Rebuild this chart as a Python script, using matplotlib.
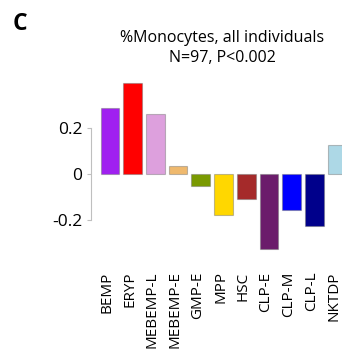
import matplotlib
matplotlib.use("Agg")
import matplotlib.pyplot as plt
from matplotlib.transforms import ScaledTranslation

plt.rcParams['font.family'] = ['Open Sans', 'DejaVu Sans']

# Correlation of each progenitor population with %Monocytes
populations = ["BEMP", "ERYP", "MEBEMP-L", "MEBEMP-E", "GMP-E", "MPP", "HSC",
               "CLP-E", "CLP-M", "CLP-L", "NKTDP"]
correlations = [0.287, 0.395, 0.262, 0.035, -0.050, -0.177, -0.107,
                -0.326, -0.155, -0.223, 0.127]
bar_colors = ["#A020F0", "#FF0000", "#DDA0DD", "#EFB96E", "#7A9A01", "#FFD700",
              "#A52A2A", "#6B1C6B", "#0000FF", "#00008B", "#ADD8E6"]
ytick_values = [-0.2, 0, 0.2]
ytick_labels = ["-0.2", "0", "0.2"]

W, H = 342, 359
fig = plt.figure(figsize=(W / 100, H / 100), dpi=100)

# axes placed in pixel units
left_px, right_px = 90.5, 350.6
top_px, bottom_px = 82.3, 254.8
ax = fig.add_axes([left_px / W, 1 - bottom_px / H,
                   (right_px - left_px) / W, (bottom_px - top_px) / H])

x = range(len(populations))
ax.bar(x, correlations, width=0.82, color=bar_colors,
       edgecolor=(0.45, 0.45, 0.45, 0.45), linewidth=0.8)

ax.set_xlim(-0.86, 10.6)
ax.set_ylim(-0.35, 0.40)

for side in ("top", "right", "bottom"):
    ax.spines[side].set_visible(False)
ax.spines["left"].set_color("#BFBFBF")
ax.spines["left"].set_linewidth(0.8)
ax.spines["left"].set_bounds(-0.2, 0.2)

ax.set_yticks(ytick_values)
ax.set_yticklabels(ytick_labels, fontsize=12.5)
ax.tick_params(axis="y", length=3, width=0.8, color="#BFBFBF", pad=3)

ax.set_xticks(list(x))
ax.set_xticklabels(populations, rotation=90, fontsize=11, va="top")
ax.tick_params(axis="x", length=0, pad=12)
shift = ScaledTranslation(-3 / 100, 0, fig.dpi_scale_trans)
for lbl in ax.get_xticklabels():
    lbl.set_transform(lbl.get_transform() + shift)

fig.text(222 / W, 1 - 38 / H, "%Monocytes, all individuals",
         ha="center", va="center", fontsize=11.5)
fig.text(222 / W, 1 - 58 / H, "N=97, P<0.002",
         ha="center", va="center", fontsize=11.5)
fig.text(13 / W, 1 - 24 / H, "C", ha="left", va="center",
         fontsize=16.5, fontweight="bold")

fig.savefig("out.png", dpi=100)
